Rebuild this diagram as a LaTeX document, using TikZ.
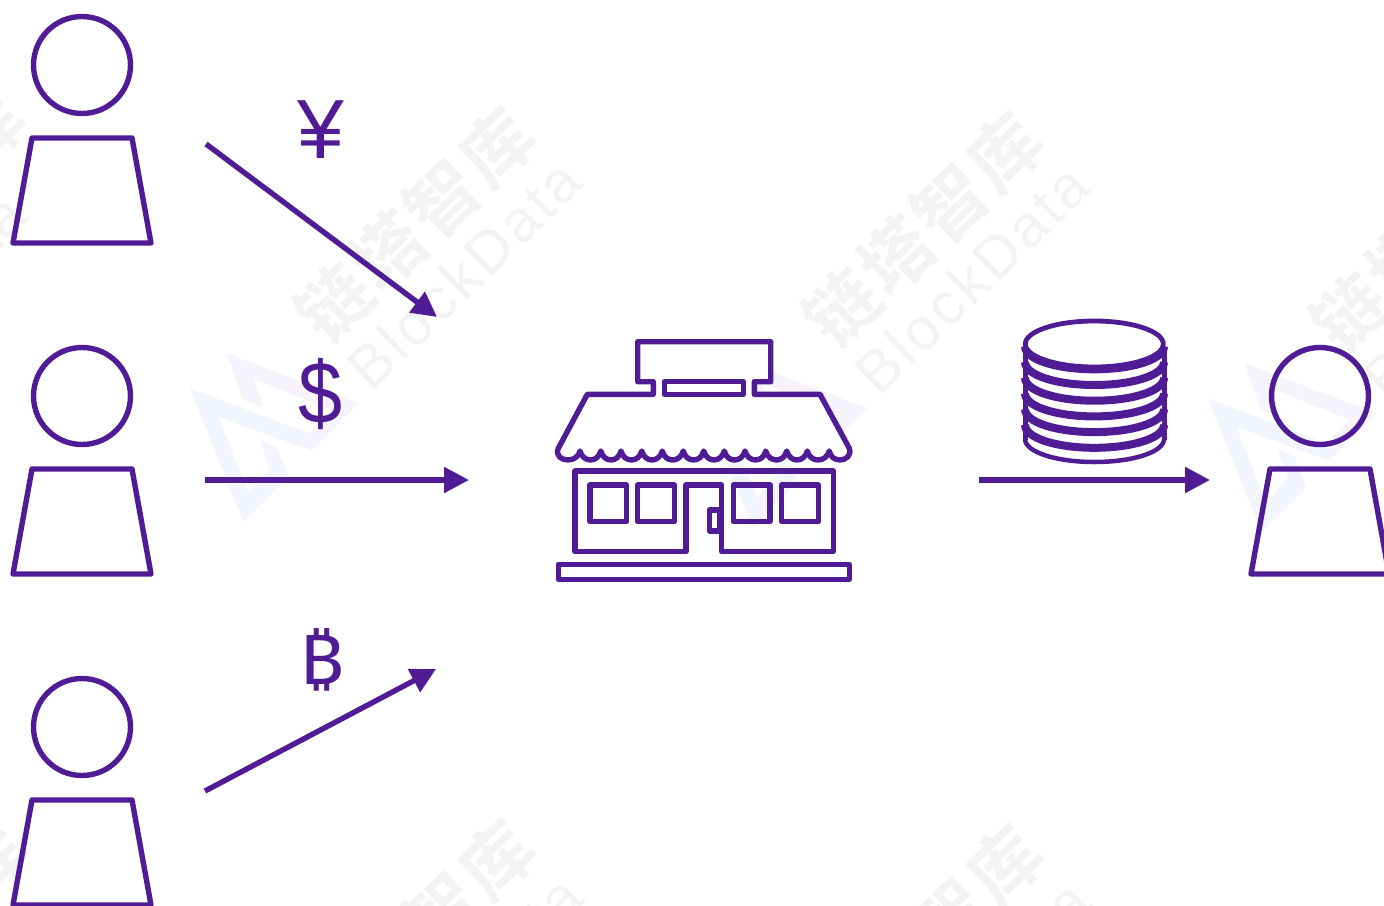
\documentclass[tikz,border=0pt]{standalone}
\usepackage{fontspec}
\usetikzlibrary{arrows.meta}
\setmainfont{Liberation Sans}
\newfontfamily\cjkwm{Noto Sans CJK SC}[BoldFont=* Bold]
\newfontfamily\btcfont{Noto Sans}
\definecolor{ink}{HTML}{501C96}
\definecolor{wmgray}{HTML}{F3F3F3}
\definecolor{logoblue}{HTML}{F2F5FE}
\definecolor{logopurple}{HTML}{F6F3FD}
\tikzset{
  x=1pt,y=-1pt,
  ink line/.style={draw=ink,line width=5.4pt,line join=round},
  arrowline/.style={draw=ink,line width=5.4pt,-{Triangle[length=25pt,width=25pt]}},
  headshape/.style={circle,draw=ink,line width=5.4pt,minimum size=97pt,inner sep=0pt},
  cur/.style={text=ink,inner sep=0pt,anchor=base,font=\fontsize{84}{84}\selectfont},
  wmcn/.style={text=wmgray,rotate=44,inner sep=0pt,font=\cjkwm\bfseries\fontsize{72}{72}\selectfont},
  wmen/.style={text=wmgray,rotate=44,inner sep=0pt,font=\fontsize{59}{59}\selectfont},
}
\newcommand{\wcn}[2]{\node[wmcn] (wmc#1#2) at (#1,#2) {链\hspace{3pt}塔\hspace{3pt}智\hspace{3pt}库};}
\newcommand{\wen}[2]{\node[wmen] (wme#1#2) at (#1,#2) {\addfontfeatures{LetterSpace=6}BlockData};}
\newcommand{\wlogo}[2]{%
  \begin{scope}[shift={(#1,#2)}]
    \fill[logopurple] (226.7,353.3) -- (358.3,403.3) -- (311.7,450.7) -- (308.3,433.3) -- (331.7,410) -- (253.3,378.3) -- (263.3,406.7) -- (243.3,400) -- cycle;
    \fill[logoblue] (190,388.3) -- (243.3,521.7) -- (288.3,476.7) -- (276.7,446.7) -- (260,440) -- (270,468.3) -- (248.3,493.3) -- (218.3,416.7) -- (311.7,450.7) -- (308.3,433.3) -- cycle;
  \end{scope}
}
\newcommand{\person}[3]{%
  \node[headshape] (head#3) at (#1,#2) {};
  \draw[ink line] (#1-50,#2+73) -- (#1+50,#2+73) -- (#1+69,#2+178) -- (#1-69,#2+178) -- cycle;
}
\newcommand{\coinband}[2]{%
  \draw[draw=ink,line width=#2pt] (1025,#1-23) .. controls (1025,#1-10) and (1056,#1) .. (1094.3,#1) .. controls (1133,#1) and (1164,#1-10) .. (1164,#1-23);
}
\begin{document}
\begin{tikzpicture}
\clip (0,0) rectangle (1384,905);
\fill[white] (0,0) rectangle (1384,905);
% watermarks
\wlogo{0}{0}\wlogo{509}{5}\wlogo{1018}{10}
\wcn{-95}{207}\wen{-91}{308}
\wcn{415}{225}\wen{464}{274}
\wcn{923}{230}\wen{972}{279}
\wcn{1431}{235}\wen{1480}{284}
\wcn{-92}{938}
\wcn{415}{938}\wen{465}{990}
\wcn{923}{943}\wen{973}{995}
% people
\person{82}{65}{a}
\person{82}{396}{b}
\person{82}{727}{c}
\person{1320}{396}{d}
% arrows
\coordinate (a1s) at (206,144); \coordinate (a1e) at (437,317);
\coordinate (a2s) at (205,480); \coordinate (a2e) at (469,480);
\coordinate (a3s) at (205,791); \coordinate (a3e) at (436,669);
\coordinate (a4s) at (979,480); \coordinate (a4e) at (1210,480);
\draw[arrowline] (a1s) -- (a1e);
\draw[arrowline] (a2s) -- (a2e);
\draw[arrowline] (a3s) -- (a3e);
\draw[arrowline] (a4s) -- (a4e);
% currency labels
\node[cur] (yen) at (321,158) {¥};
\node[cur,xscale=0.9,font=\fontsize{88}{88}\selectfont] (dollar) at (321,423) {\$};
\node[cur,yscale=0.88,font=\btcfont\fontsize{78}{78}\selectfont] (btc) at (322,684) {₿};
% shop
\draw[ink line,fill=white] (653.3,381.7) -- (637.7,381.7) -- (637.7,341.7) -- (770.7,341.7) -- (770.7,381.7) -- (754.3,381.7) -- (754.3,394.3) -- (820,394.3) -- (849.3,448.3)
  .. controls (852,456) and (845,460) .. (840,460) .. controls (834,460) and (830,456) .. (829.3,451)
  .. controls (826,463) and (810,463) .. (807.3,451)
  .. controls (804,463) and (790,463) .. (786.7,451)
  .. controls (784,463) and (769,463) .. (765.7,451)
  .. controls (763,463) and (748,463) .. (745,451)
  .. controls (742,463) and (727,463) .. (724.3,451)
  .. controls (721,463) and (707,463) .. (703.7,451)
  .. controls (701,463) and (686,463) .. (683.3,451)
  .. controls (680,463) and (665,463) .. (662.3,451)
  .. controls (659,463) and (645,463) .. (641.7,451)
  .. controls (639,463) and (624,463) .. (621,451)
  .. controls (618,463) and (604,463) .. (600.7,451)
  .. controls (598,463) and (583,463) .. (580,451)
  .. controls (579,456) and (574,460) .. (568,460) .. controls (562,460) and (555,456) .. (558.3,448.3)
  -- (587.3,394.3) -- (653.3,394.3) -- cycle;
\draw[ink line] (664.3,381.7) rectangle (743.3,394.3);
\draw[ink line] (686,551.7) -- (575,551.7) -- (575,471) -- (833.3,471) -- (833.3,551.7) -- (721.7,551.7) -- (721.7,485) -- (686,485) -- cycle;
\draw[ink line] (590,485) rectangle (626.7,521.7);
\draw[ink line] (637.7,485) rectangle (674.3,521.7);
\draw[ink line] (733.3,485) rectangle (770,521.7);
\draw[ink line] (781.7,485) rectangle (818.3,521.7);
\draw[ink line] (709.3,510) rectangle (720,531);
\draw[ink line] (558.3,564.3) rectangle (849.3,579.3);
% coins
\coinband{462}{4.5}
\coinband{447.8}{8}
\coinband{432.1}{8}
\coinband{416.4}{8}
\coinband{400.7}{8}
\coinband{385}{8}
\coinband{369.3}{8}
\draw[draw=ink,line width=5pt] (1025,350) -- (1025,440);
\draw[draw=ink,line width=5pt] (1164,350) -- (1164,440);
\draw[draw=ink,line width=4.8pt,fill=white] (1094.3,344) ellipse [x radius=69,y radius=23];
\end{tikzpicture}
\end{document}
